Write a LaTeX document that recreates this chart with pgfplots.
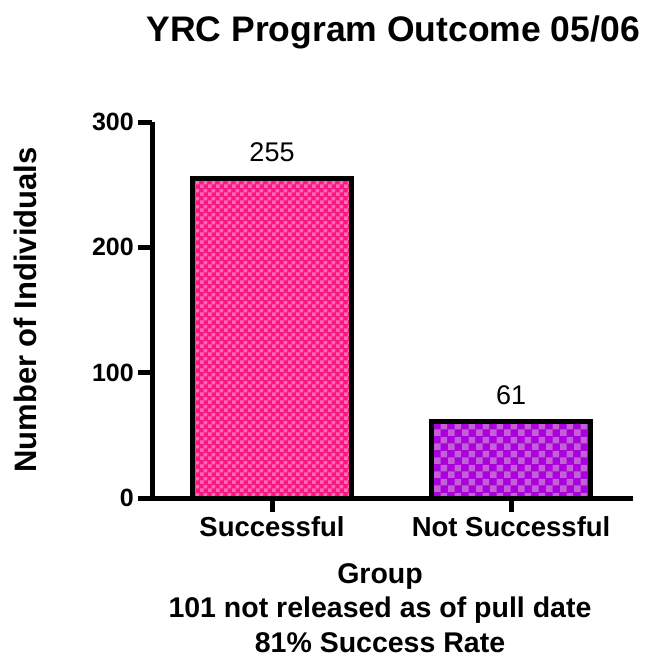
\documentclass[border=0pt]{standalone}
\usepackage{fontspec}
\setmainfont{Liberation Sans}
\usepackage{pgfplots}
\pgfplotsset{compat=1.18}
\usetikzlibrary{patterns,patterns.meta}
\definecolor{pinkbase}{RGB}{250,20,135}
\definecolor{pinklight}{RGB}{255,110,170}
\definecolor{purpbase}{RGB}{170,0,220}
\definecolor{purplight}{RGB}{195,95,215}
\tikzdeclarepattern{
  name=checkS, type=uncolored,
  bounding box={(0pt,0pt) and (8pt,8pt)},
  tile size={(8pt,8pt)},
  code={\fill (0pt,0pt) rectangle (4pt,4pt); \fill (4pt,4pt) rectangle (8pt,8pt);}
}
\tikzdeclarepattern{
  name=checkL, type=uncolored,
  bounding box={(0pt,0pt) and (14pt,14pt)},
  tile size={(14pt,14pt)},
  code={\fill (0pt,0pt) rectangle (7pt,7pt); \fill (7pt,7pt) rectangle (14pt,14pt);}
}
\begin{document}
\begin{tikzpicture}
\path[use as bounding box] (0,0) rectangle (646pt,-660pt);
\begin{axis}[
  at={(152pt,-498pt)}, anchor=south west,
  scale only axis, width=481pt, height=376pt,
  xmin=-0.502, xmax=1.51, ymin=0, ymax=300,
  axis x line*=bottom, axis y line*=left,
  axis line style={line width=5pt, black},
  every tick/.style={line width=5pt, black},
  tick align=outside, major tick length=14pt,
  xtick={0,1}, xticklabels={Successful, Not Successful},
  ytick={0,100,200,300},
  /pgf/number format/assume math mode=true,
  xticklabel style={font=\bfseries\fontsize{27.5}{27.5}\selectfont, inner sep=0pt, yshift=-4pt},
  yticklabel style={font=\bfseries\fontsize{25}{25}\selectfont, inner sep=0pt, xshift=-4pt},
  clip=false,
]
\addplot[ybar, bar width=159pt, bar shift=0pt, draw=black, line width=5pt,
  preaction={fill=pinkbase}, pattern=checkS, pattern color=pinklight] coordinates {(0,255)};
\addplot[ybar, bar width=159pt, bar shift=0pt, draw=black, line width=5pt,
  preaction={fill=purpbase}, pattern=checkL, pattern color=purplight] coordinates {(1,61)};
\addplot[draw=none, mark=none, nodes near coords,
  nodes near coords style={font=\fontsize{27}{27}\selectfont, text=black, anchor=base, yshift=17pt, inner sep=0pt}]
  coordinates {(0,255) (1,61)};
\end{axis}
\node[anchor=base east, font=\bfseries\fontsize{35.5}{35.5}\selectfont, inner sep=0pt] at (640pt,-42pt) {YRC Program Outcome 05/06};
\node[rotate=90, anchor=center, font=\bfseries\fontsize{31}{31}\selectfont, inner sep=0pt] at (25pt,-310pt) {Number of Individuals};
\node[anchor=north, align=center, font=\bfseries\fontsize{28.5}{34.5}\selectfont, inner sep=0pt] at (380pt,-563pt) {Group\\101 not released as of pull date\\81\% Success Rate};
\end{tikzpicture}
\end{document}
